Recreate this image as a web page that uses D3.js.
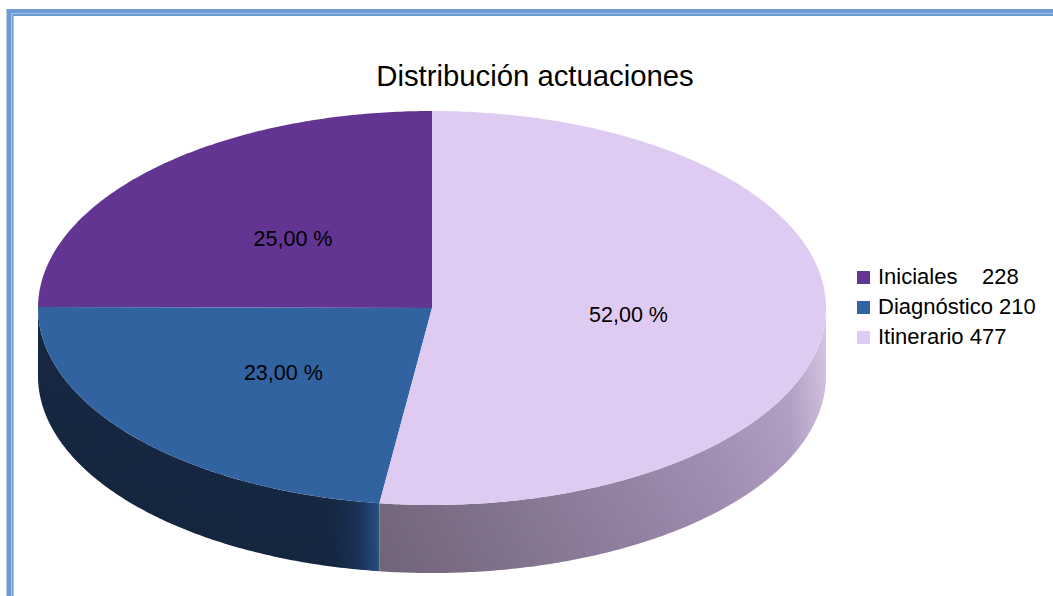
<!DOCTYPE html>
<html>
<head>
<meta charset="utf-8">
<script src="https://cdn.jsdelivr.net/npm/d3@7"></script>
<style>
  html, body { margin: 0; padding: 0; background: #fff; }
  svg { display: block; font-family: "Liberation Sans", Arial, sans-serif; }
</style>
</head>
<body>
<div id="chart"></div>
<script>
// chart data
const categories = ["Iniciales", "Diagnóstico", "Itinerario"];
const values = [228, 210, 477];
const colors = ["#633592", "#3163a0", "#dfcbf2"];
const legendGaps = ["    ", " ", " "];

const width = 1053;
const height = 596;

// ellipse of the pie top face
const cx = 432, cy = 308, rx = 394, ry = 197, depth = 68;

const svg = d3.select("#chart").append("svg")
    .attr("width", width)
    .attr("height", height);

const defs = svg.append("defs");

// pie layout, counter-clockwise from 12 o'clock
const pie = d3.pie().sort(null).startAngle(0).endAngle(-2 * Math.PI);
const arcs = pie(values);

const px = a => cx + rx * Math.sin(a);
const py = a => cy - ry * Math.cos(a);

// x of the seam between Diagnóstico and Itinerario on the front
const seamX = px(arcs[1].endAngle);

// side gradients
const sideStops = [
  [[0, "#162843"], [0.86, "#172b48"], [0.93, "#1c355c"], [0.975, "#25497c"], [1, "#2d5b93"]],
  [[0, "#807088"], [0.35, "#9584a2"], [0.75, "#ae98c0"], [0.92, "#bba6cc"], [1, "#d8c6e6"]]
];
const sideRange = [[cx - rx, seamX], [seamX, cx + rx]];
sideStops.forEach((stops, i) => {
  const g = defs.append("linearGradient")
      .attr("id", "side" + i)
      .attr("gradientUnits", "userSpaceOnUse")
      .attr("x1", sideRange[i][0]).attr("x2", sideRange[i][1])
      .attr("y1", 0).attr("y2", 0);
  stops.forEach(s => g.append("stop").attr("offset", s[0]).attr("stop-color", s[1]));
});
const shade = defs.append("linearGradient")
    .attr("id", "shade")
    .attr("x1", 0).attr("x2", 0).attr("y1", 0).attr("y2", 1);
shade.append("stop").attr("offset", 0).attr("stop-color", "#000").attr("stop-opacity", 0);
shade.append("stop").attr("offset", 1).attr("stop-color", "#000").attr("stop-opacity", 0.12);

// frame
svg.append("rect")
    .attr("x", 10).attr("y", 12.5)
    .attr("width", 1200).attr("height", 1000)
    .attr("fill", "none")
    .attr("stroke", "#6b9bd2")
    .attr("stroke-width", 7);
svg.append("rect")
    .attr("x", 11.5).attr("y", 13.5)
    .attr("width", 1200).attr("height", 1000)
    .attr("fill", "none")
    .attr("stroke", "#a6c4ea")
    .attr("stroke-width", 1);

// title
svg.append("text")
    .attr("x", 535)
    .attr("y", 86)
    .attr("text-anchor", "middle")
    .style("font-size", "29.3px")
    .attr("fill", "#000")
    .text("Distribución actuaciones");

function arcPoints(a0, a1, dy) {
  const n = Math.max(2, Math.ceil(Math.abs(a1 - a0) / 0.01));
  return d3.range(n + 1).map(k => {
    const a = a0 + (a1 - a0) * k / n;
    return [px(a), py(a) + dy];
  });
}

// sides (front half only: angles between PI/2 and 3PI/2 measured clockwise)
const sides = svg.append("g");
arcs.forEach((d, i) => {
  let a0 = Math.min(d.startAngle, d.endAngle) + 2 * Math.PI;
  let a1 = Math.max(d.startAngle, d.endAngle) + 2 * Math.PI;
  const s = Math.max(a0, Math.PI / 2), e = Math.min(a1, 3 * Math.PI / 2);
  if (e <= s) return;
  const top = arcPoints(s, e, 0);
  const bottom = arcPoints(e, s, depth);
  const path = d3.line()(top.concat(bottom)) + "Z";
  sides.append("path").attr("d", path).attr("fill", "url(#side" + (i === 1 ? 0 : 1) + ")");
  sides.append("path").attr("d", path).attr("fill", "url(#shade)");
});

// top faces
svg.append("g")
  .selectAll("path")
  .data(arcs)
  .join("path")
    .attr("d", d => d3.line()([[cx, cy]].concat(arcPoints(d.startAngle, d.endAngle, 0))) + "Z")
    .attr("fill", (d, i) => colors[i]);

// value labels
const total = d3.sum(values);
svg.append("g")
    .style("font-size", "21.5px")
  .selectAll("text")
  .data(arcs)
  .join("text")
    .attr("x", d => cx + 0.5 * rx * Math.sin((d.startAngle + d.endAngle) / 2))
    .attr("y", d => cy - 0.5 * ry * Math.cos((d.startAngle + d.endAngle) / 2))
    .attr("dy", "0.35em")
    .attr("text-anchor", "middle")
    .attr("fill", "#000")
    .text(d => Math.round(d.value / total * 100) + ",00 %");

// legend
const legend = svg.append("g")
  .selectAll("g")
  .data(categories)
  .join("g")
    .attr("transform", (d, i) => `translate(857,${271 + i * 30})`);

legend.append("rect")
    .attr("width", 13).attr("height", 13)
    .attr("fill", (d, i) => colors[i]);

legend.append("text")
    .attr("x", 21)
    .attr("y", 13)
    .attr("xml:space", "preserve")
    .style("white-space", "pre")
    .style("font-size", "22px")
    .attr("fill", "#000")
    .text((d, i) => d + legendGaps[i] + values[i]);
</script>
</body>
</html>
